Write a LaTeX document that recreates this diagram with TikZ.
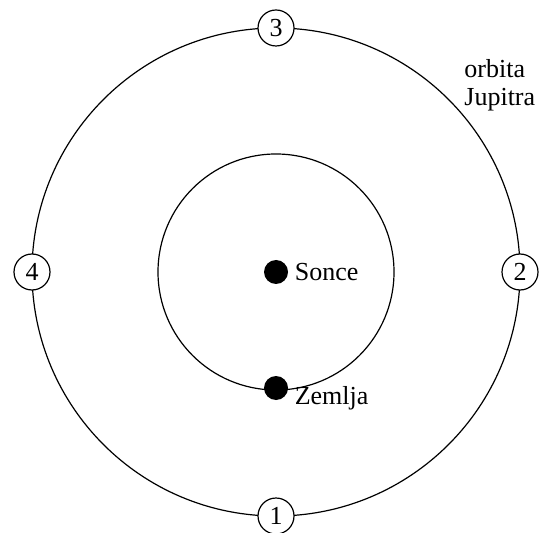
\documentclass[tikz,border=0pt]{standalone}
\usepackage{fontspec}
\setmainfont{Liberation Serif}
\usetikzlibrary{positioning}
\tikzset{
    % Bodies and orbit positions
    planet/.style={circle, fill=black, inner sep=0pt, minimum size=12pt},
    posmark/.style={circle, draw, fill=white, line width=0.6pt, inner sep=0pt,
        minimum size=18pt, font=\fontsize{13}{15}\selectfont},
    bodylabel/.style={font=\fontsize{13}{15}\selectfont, inner sep=1pt},
    orbit/.style={draw, line width=0.6pt}
}
\begin{document}
\begin{tikzpicture}[x=0.5pt,y=-0.5pt]
    \useasboundingbox (0,0) rectangle (544,533);

    % Orbits
    \coordinate (centre) at (276,272);
    \path[orbit] (centre) circle [radius=122pt];
    \path[orbit] (centre) circle [radius=59pt];

    % Sun and Earth
    \node[planet] (sonce) at (centre) {};
    \node[planet] (zemlja) at (276,388) {};
    \node[bodylabel, right=2pt of sonce] (sonceL) {Sonce};
    \node[bodylabel, right=2pt of zemlja, yshift=-5pt] (zemljaL) {Zemlja};

    % Positions of Jupiter
    \node[posmark] (p1) at (276,516) {1};
    \node[posmark] (p2) at (520,272) {2};
    \node[posmark] (p3) at (276,28) {3};
    \node[posmark] (p4) at (32,272) {4};

    % Orbit label
    \node[bodylabel, align=left, anchor=west, font=\fontsize{13}{14}\selectfont]
        (jupitra) at (462,85) {orbita\\Jupitra};
\end{tikzpicture}
\end{document}
